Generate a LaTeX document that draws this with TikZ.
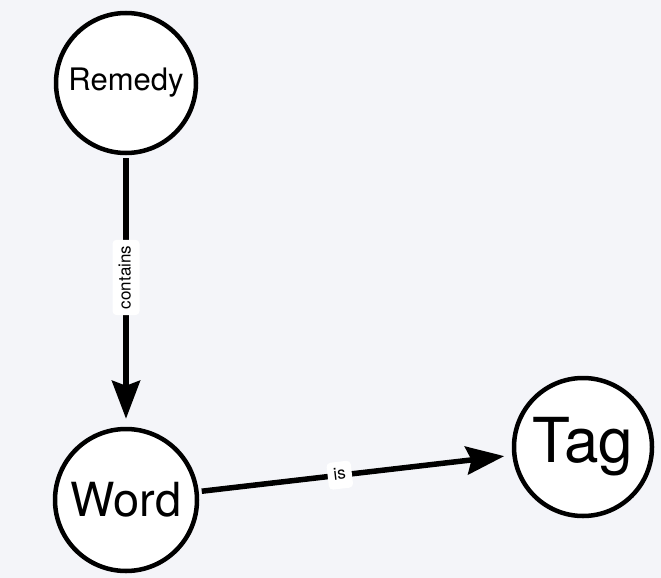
\documentclass[tikz,border=0pt]{standalone}
\usepackage{fontspec}
\setmainfont{TeX Gyre Heros}
\usetikzlibrary{arrows.meta}
\definecolor{canvas}{HTML}{F4F5F9}
\tikzset{
  entity/.style={circle, draw=black, fill=white, line width=4.5pt, inner sep=0pt, text=black},
  rel/.style={line width=5.5pt, draw=black, -{Stealth[length=38pt, width=28pt, inset=5pt]},
              shorten <=3pt, shorten >=8pt},
  rellabel/.style={fill=white, rounded corners=4pt, inner xsep=6pt, inner ysep=6pt,
                   text height=12pt, text depth=3pt, font=\fontsize{17}{18}\selectfont}
}
\begin{document}
\begin{tikzpicture}[x=1pt, y=-1pt]
  \fill[canvas] (0,0) rectangle (661,578);
  \useasboundingbox (0,0) rectangle (661,578);

  \node[entity, minimum size=140pt, font=\fontsize{31}{33}\selectfont] (remedy) at (126,83) {Remedy};
  \node[entity, minimum size=142pt, font=\fontsize{47}{49}\selectfont] (word) at (126,500) {Word};
  \node[entity, minimum size=138pt, font=\fontsize{62}{64}\selectfont] (tag) at (583,447) {Tag};

  \draw[rel] (remedy) -- node[rellabel, rotate=90, pos=0.45] {contains} (word);
  \draw[rel] (word) -- node[rellabel, sloped, pos=0.45] {is} (tag);
\end{tikzpicture}
\end{document}
